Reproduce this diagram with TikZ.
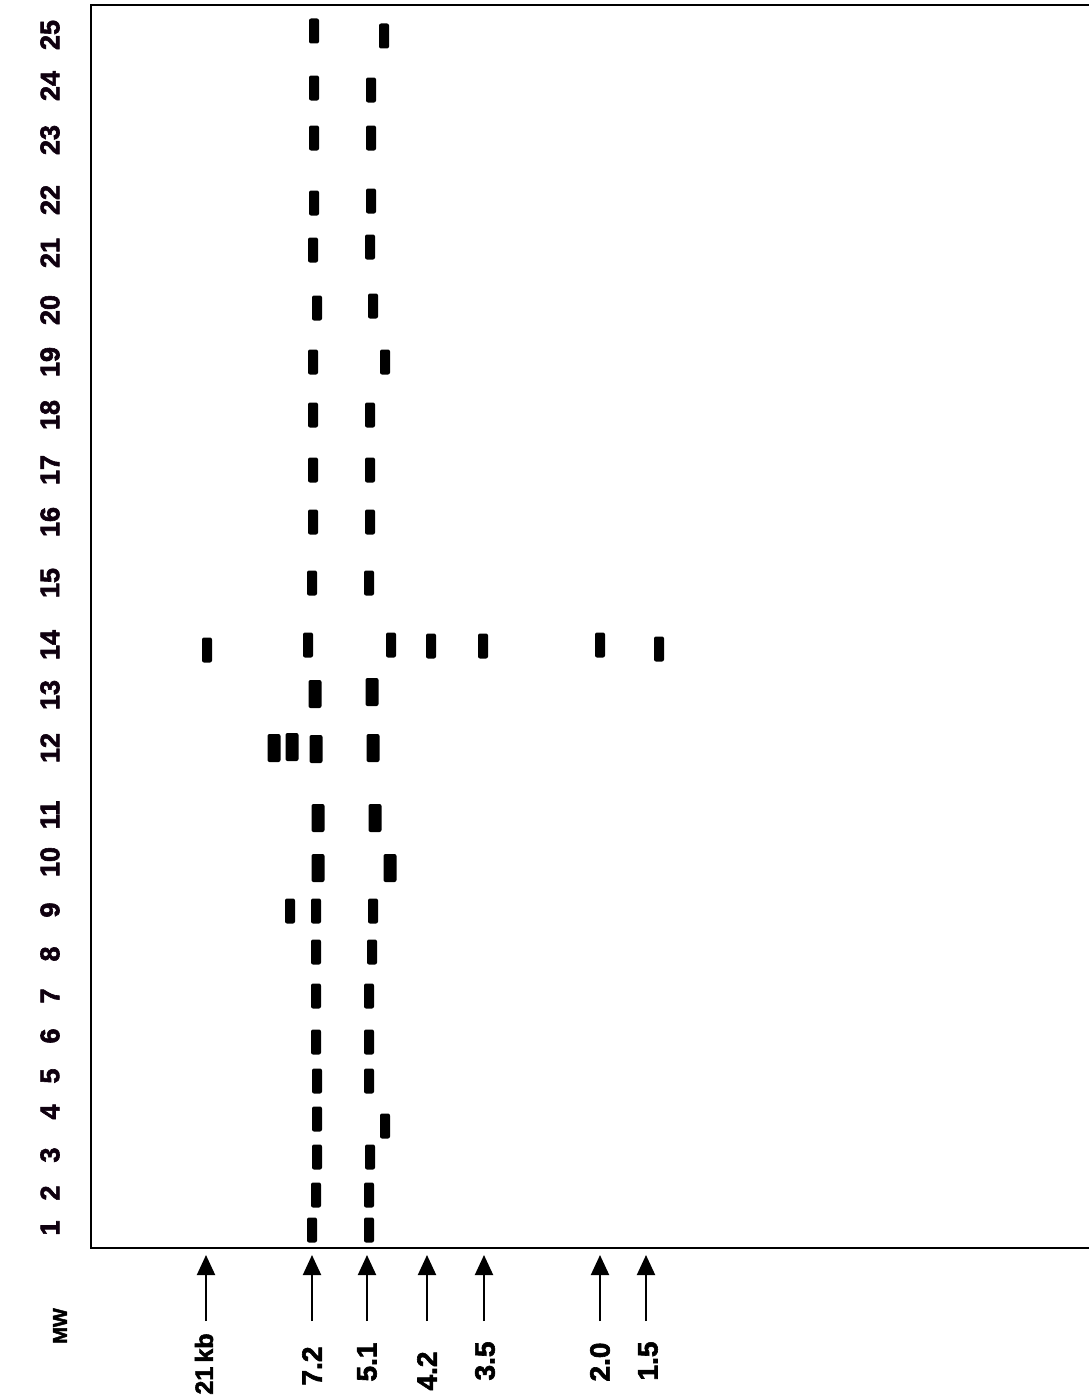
\documentclass[tikz,border=0pt]{standalone}
\usepackage{fontspec}
\setmainfont{Liberation Sans}
\newfontfamily\heavyfont[FakeBold=2.2]{Liberation Sans Bold}
\usetikzlibrary{arrows.meta}
\begin{document}
\begin{tikzpicture}[x=1pt,y=-1pt,
  band/.style={fill=black,draw=none,rounded corners=2pt,minimum width=10pt,minimum height=25pt,inner sep=0pt},
  bigband/.style={band,minimum width=13pt,minimum height=28pt},
  lanelbl/.style={rotate=90,font=\heavyfont\fontsize{27}{27}\selectfont,text=black!88!violet,inner sep=0pt},
  mwlbl/.style={rotate=90,font=\heavyfont\fontsize{28}{28}\selectfont,inner sep=0pt},
  frameline/.style={line width=2.4pt,black},
  mwarrow/.style={line width=2pt,-{Triangle[length=20pt,width=18pt]}}]
\fill[white] (0,0) rectangle (1089,1397);
\useasboundingbox (0,0) rectangle (1089,1397);
% frame
\coordinate (ftr) at (1089,5);
\coordinate (ftl) at (91,5);
\coordinate (fbl) at (91,1248);
\coordinate (fbr) at (1089,1248);
\draw[frameline] (ftr) -- (ftl) -- (fbl) -- (fbr);
% lane labels
\foreach \n/\y in {1/1228,2/1193,3/1155,4/1112,5/1076,6/1036,7/996,8/954,9/910,10/862,11/815,12/748,13/695,14/645,15/583,16/522,17/470,18/415,19/362,20/310,21/253,22/200,23/140,24/86,25/35}
  \node[lanelbl] (lane\n) at (50,\y) {\n};
% bands
\foreach \i/\x/\y in {1/312/1230,2/316/1195,3/317/1157,4/317/1119,5/317/1081,6/316/1042,7/316/996,8/316/952,9/316/911,
  15/312/583,16/313/522,17/313/470,18/313/415,19/313/362,20/317/308,21/313/250,22/314/203,23/314/138,24/314/88,25/314/31}
  \node[band] (a\i) at (\x,\y) {};
\foreach \i/\x/\y in {1/369/1230,2/369/1195,3/370/1157,4/385/1126,5/369/1081,6/369/1042,7/369/996,8/372/952,9/373/911,
  15/369/583,16/370/522,17/370/470,18/370/415,19/385/362,20/373/306,21/370/247,22/371/201,23/371/138,24/371/90,25/384/36}
  \node[band] (c\i) at (\x,\y) {};
\node[band] (x9) at (290,911) {};
% lanes 10-13 (larger bands)
\node[bigband] (a10) at (318,868) {};
\node[bigband] (c10) at (390,868) {};
\node[bigband] (a11) at (318,818) {};
\node[bigband] (c11) at (375,818) {};
\node[bigband] (x12a) at (274,748) {};
\node[bigband] (x12b) at (292,747) {};
\node[bigband] (a12) at (316,749) {};
\node[bigband] (c12) at (373,748) {};
\node[bigband] (a13) at (315,694) {};
\node[bigband] (c13) at (372,692) {};
% lane 14
\foreach \k/\x/\y in {1/207/650,2/308/645,3/391/645,4/431/646,5/483/646,6/600/645,7/659/649}
  \node[band] (f\k) at (\x,\y) {};
% MW arrows
\foreach \k/\x in {1/206,2/312,3/367,4/427,5/484,6/600,7/646} {
  \coordinate (t\k) at (\x,1321);
  \coordinate (h\k) at (\x,1255);
  \draw[mwarrow] (t\k) -- (h\k);
}
% MW labels
\node[mwlbl,font=\heavyfont\fontsize{25}{25}\selectfont] (l1) at (204,1364) {21\,kb};
\node[mwlbl] (l2) at (312,1366) {7.2};
\node[mwlbl] (l3) at (367,1362) {5.1};
\node[mwlbl] (l4) at (427,1371) {4.2};
\node[mwlbl] (l5) at (485,1361) {3.5};
\node[mwlbl] (l6) at (600,1362) {2.0};
\node[mwlbl] (l7) at (648,1361) {1.5};
\node[rotate=90,font=\heavyfont\fontsize{20}{20}\selectfont,inner sep=0pt] (mw) at (60,1326) {MW};
\end{tikzpicture}
\end{document}
